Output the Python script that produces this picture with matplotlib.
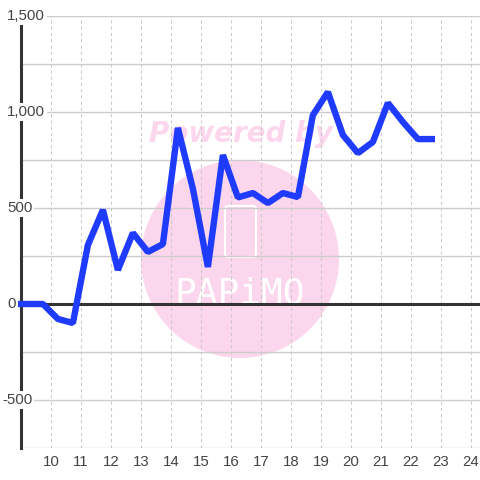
import matplotlib
matplotlib.use("Agg")
import matplotlib.pyplot as plt
from matplotlib.patches import Circle, FancyBboxPatch

plt.rcParams['font.family'] = ['Liberation Sans', 'DejaVu Sans']

# data
hours = [8.87, 9.73, 10.23, 10.73, 11.23, 11.73, 12.23, 12.73, 13.23, 13.73,
         14.23, 14.73, 15.23, 15.73, 16.23, 16.73, 17.23, 17.73, 18.23, 18.73,
         19.23, 19.73, 20.23, 20.73, 21.23, 21.73, 22.23, 22.8]
values = [0, 0, -78, -99, 307, 490, 177, 370, 271, 312,
          917, 600, 193, 776, 555, 578, 526, 578, 557, 984,
          1104, 880, 786, 844, 1047, 948, 859, 859]
x_ticks = list(range(10, 25))
y_grid = list(range(-750, 1501, 250))
y_labels = [-500, 0, 500, 1000, 1500]

fig = plt.figure(figsize=(4.8, 4.8), dpi=100, facecolor='white')

# watermark (behind the axes)
pink = '#fcd6ec'
fig.patches.append(Circle((240/480, 1-259/480), 99/480, transform=fig.transFigure,
                          facecolor=pink, edgecolor='none', zorder=-2))
fig.patches.append(FancyBboxPatch((225/480, 1-257/480), 31/480, 51/480,
                                  boxstyle='round,pad=0,rounding_size=0.006',
                                  transform=fig.transFigure, facecolor='none',
                                  edgecolor='white', lw=1.5, zorder=-1))
fig.text(241/480, 1-142/480, 'Powered by', ha='center', va='baseline',
         fontsize=20, fontweight='bold', fontstyle='oblique',
         family='DejaVu Sans', color=pink, zorder=-1)
fig.text(240/480, 1-304/480, 'PAPiMO', ha='center', va='baseline',
         fontsize=26, family='DejaVu Sans Mono', color='white', zorder=-1)

ax = fig.add_axes([21/480, 32/480, 459/480, 432/480])
ax.set_facecolor('none')
ax.set_xlim(9, 24.3)
ax.set_ylim(-750, 1500)
for s in ax.spines.values():
    s.set_visible(False)

ax.set_xticks(x_ticks)
ax.set_yticks(y_grid)
ax.tick_params(axis='both', length=0)
ax.tick_params(axis='x', labelsize=10.8, labelcolor='#444444', pad=5)
ax.tick_params(axis='y', labelleft=False)
ax.set_axisbelow(True)
ax.grid(axis='y', color='#cccccc', lw=1.0, linestyle='-')
ax.grid(axis='x', color='#c8c8c8', lw=0.75, linestyle=(0, (3, 3)))

ax.axvline(9, color='#333333', lw=2.2, zorder=3, clip_on=False)
ax.axhline(0, color='#333333', lw=2.2, zorder=3)

ax.plot(hours, values, color='#1e3bff', lw=4.6, solid_joinstyle='bevel',
        solid_capstyle='butt', zorder=4, clip_on=False)

ytr = ax.get_yaxis_transform()
for v in y_labels:
    xpos = (7 - 21) / 459 if v >= 0 else (2 - 21) / 459
    ax.text(xpos, v, f"{v:,}", transform=ytr, ha='left', va='center',
            fontsize=10.8, color='#444444', zorder=6, clip_on=False,
            bbox=dict(facecolor='white', edgecolor='none', pad=1.5))

fig.savefig('out.png', dpi=100)
